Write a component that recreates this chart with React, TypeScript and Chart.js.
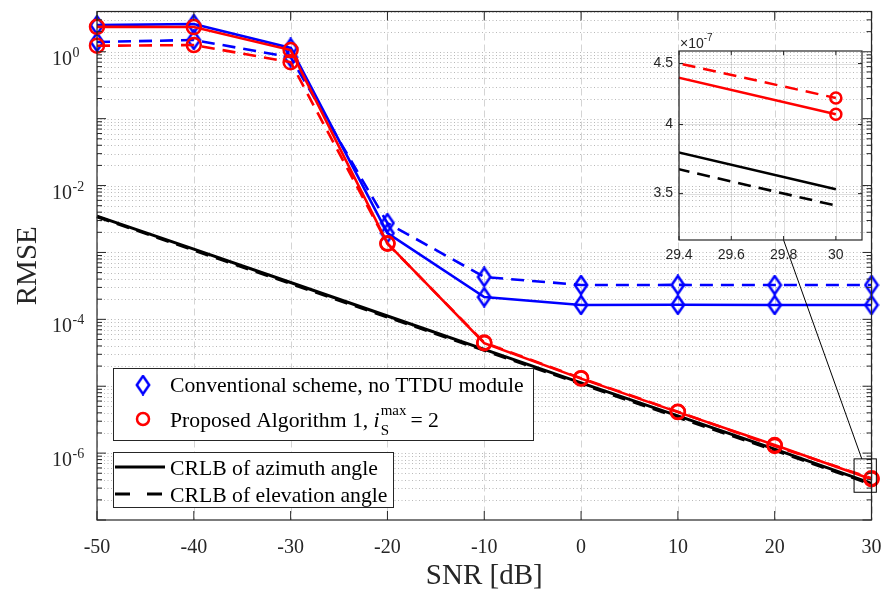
import React, { useEffect, useRef } from 'react';
import { Chart, registerables } from 'chart.js';

Chart.register(...registerables);

// ---------------- data ----------------
const snrDb = [-50, -40, -30, -20, -10, 0, 10, 20, 30];
const conventionalAzimuth = [2.5, 2.6, 1.14, 1.94e-3, 2.15e-4, 1.64e-4, 1.65e-4, 1.64e-4, 1.64e-4];
const conventionalElevation = [1.4, 1.5, 0.83, 2.75e-3, 4.3e-4, 3.26e-4, 3.27e-4, 3.26e-4, 3.26e-4];
const proposedAzimuth = [2.36, 2.34, 1.06, 1.37e-3, 4.4e-5, 1.3e-5, 4.1e-6, 1.32e-6, 4.08e-7];
const proposedElevation = [1.23, 1.26, 0.7, 1.35e-3, 4.5e-5, 1.32e-5, 4.15e-6, 1.28e-6, 4.21e-7];
const crlbAzimuth = [3.5e-3, 1.12e-3, 3.55e-4, 1.12e-4, 3.55e-5, 1.12e-5, 3.6e-6, 1.15e-6, 3.53e-7];
const crlbElevation = [3.42e-3, 1.08e-3, 3.42e-4, 1.08e-4, 3.43e-5, 1.08e-5, 3.43e-6, 1.1e-6, 3.42e-7];

const xTicks = [-50, -40, -30, -20, -10, 0, 10, 20, 30];
const yTickExponents = [0, -2, -4, -6];
const insetXTicks = [29.4, 29.6, 29.8, 30];
const insetYTicks = [3.5, 4, 4.5]; // in units of 10^-7
const insetExponent = -7;

const legendMainLabels = ['Conventional scheme, no TTDU module', 'Proposed Algorithm 1, '];
const legendCrlbLabels = ['CRLB of azimuth angle', 'CRLB of elevation angle'];
const xTitle = 'SNR [dB]';
const yTitle = 'RMSE';

// zoom annotation (data coordinates)
const zoomBoxX = [28.2, 30.5];
const zoomBoxY = [2.6e-7, 8.2e-7];
const connectorMainX = 29.0;
const connectorInsetX = 29.8;

// ---------------- style ----------------
const W = 883;
const H = 589;
const INSET = { left: 600, top: 20, width: 283, height: 260 };
const SERIF = '"Liberation Serif", "Times New Roman", serif';
const SANS = '"Liberation Sans", Arial, sans-serif';
const TXT = '#262626';
const BLUE = '#0000ff';
const RED = '#ff0000';
const BLACK = '#000000';
const DASH = [13, 8];

function makeDiamond(): HTMLCanvasElement {
  const c = document.createElement('canvas');
  c.width = 16;
  c.height = 21;
  const g = c.getContext('2d')!;
  g.strokeStyle = BLUE;
  g.lineWidth = 2.5;
  g.beginPath();
  g.moveTo(8, 1.5);
  g.lineTo(14.2, 10.5);
  g.lineTo(8, 19.5);
  g.lineTo(1.8, 10.5);
  g.closePath();
  g.stroke();
  return c;
}

function series(label: string, data: number[], color: string, dashed: boolean, marker: any, radius: number, lw: number, clip: any) {
  return {
    label,
    data: snrDb.map((x, i) => ({ x, y: data[i] })),
    borderColor: color,
    borderWidth: lw,
    borderDash: dashed ? DASH : [],
    pointStyle: marker || false,
    pointRadius: marker ? radius : 0,
    pointBorderColor: color,
    pointBorderWidth: 2.5,
    pointBackgroundColor: 'rgba(0,0,0,0)',
    tension: 0,
    fill: false,
    clip,
  };
}

function seg(ctx: CanvasRenderingContext2D, x1: number, y1: number, x2: number, y2: number) {
  ctx.beginPath();
  ctx.moveTo(x1, y1);
  ctx.lineTo(x2, y2);
  ctx.stroke();
}

export default function App() {
  const mainRef = useRef<HTMLCanvasElement>(null);
  const insetRef = useRef<HTMLCanvasElement>(null);

  useEffect(() => {
    const diamond = makeDiamond();

    // ---------- inset ----------
    const insetDecor = {
      id: 'insetDecor',
      beforeDatasetsDraw(chart: any) {
        const { ctx, chartArea: a, scales } = chart;
        const x = scales.x, y = scales.y;
        ctx.save();
        ctx.strokeStyle = 'rgba(38,38,38,0.15)';
        ctx.lineWidth = 1;
        for (const t of insetXTicks) {
          const px = Math.round(x.getPixelForValue(t)) + 0.5;
          seg(ctx, px, a.top, px, a.bottom);
        }
        for (const t of insetYTicks) {
          const py = Math.round(y.getPixelForValue(t * 10 ** insetExponent)) + 0.5;
          seg(ctx, a.left, py, a.right, py);
        }
        ctx.restore();
      },
      afterDatasetsDraw(chart: any) {
        const { ctx, chartArea: a, scales } = chart;
        const x = scales.x, y = scales.y;
        ctx.save();
        ctx.strokeStyle = TXT;
        ctx.lineWidth = 1.2;
        ctx.strokeRect(a.left, a.top, a.right - a.left, a.bottom - a.top);
        ctx.lineWidth = 1;
        ctx.fillStyle = TXT;
        ctx.font = `14px ${SANS}`;
        ctx.textAlign = 'center';
        ctx.textBaseline = 'middle';
        for (const t of insetXTicks) {
          const px = x.getPixelForValue(t);
          seg(ctx, px, a.bottom, px, a.bottom - 4);
          seg(ctx, px, a.top, px, a.top + 4);
          ctx.fillText(String(t), px, a.bottom + 15);
        }
        ctx.textAlign = 'right';
        for (const t of insetYTicks) {
          const py = y.getPixelForValue(t * 10 ** insetExponent);
          seg(ctx, a.left, py, a.left + 4, py);
          seg(ctx, a.right, py, a.right - 4, py);
          ctx.fillText(String(t), a.left - 6, py);
        }
        // x10^-7
        ctx.textAlign = 'left';
        ctx.textBaseline = 'alphabetic';
        ctx.font = `14px ${SANS}`;
        const base = '\u00d710';
        ctx.fillText(base, a.left + 1, a.top - 3);
        const bw = ctx.measureText(base).width;
        ctx.font = `10px ${SANS}`;
        ctx.fillText(String(insetExponent), a.left + 1 + bw, a.top - 10);
        ctx.restore();
      },
    };

    const inset = new Chart(insetRef.current!, {
      type: 'line',
      data: {
        datasets: [
          series('p-az', proposedAzimuth, RED, false, 'circle', 5.5, 2.5, undefined),
          series('p-el', proposedElevation, RED, true, 'circle', 5.5, 2.5, undefined),
          series('c-az', crlbAzimuth, BLACK, false, null, 0, 2.6, undefined),
          series('c-el', crlbElevation, BLACK, true, null, 0, 2.6, undefined),
        ] as any,
      },
      options: {
        responsive: false,
        animation: false,
        devicePixelRatio: 1,
        events: [],
        layout: { padding: { left: 0, right: 21, top: 31, bottom: 0 } },
        plugins: { legend: { display: false }, tooltip: { enabled: false } },
        scales: {
          x: {
            type: 'linear', min: 29.4, max: 30.1,
            ticks: { display: false }, grid: { display: false }, border: { display: false },
            afterFit: (s: any) => { s.height = 40; },
          },
          y: {
            type: 'logarithmic', min: 3.2e-7, max: 4.61e-7,
            ticks: { display: false }, grid: { display: false }, border: { display: false },
            afterFit: (s: any) => { s.width = 79; },
          },
        },
      } as any,
      plugins: [insetDecor],
    });

    // ---------- main ----------
    const mainDecor = {
      id: 'mainDecor',
      beforeDatasetsDraw(chart: any) {
        const { ctx, chartArea: a, scales } = chart;
        const x = scales.x, y = scales.y;
        ctx.save();
        ctx.lineWidth = 1;
        ctx.strokeStyle = 'rgba(38,38,38,0.32)';
        ctx.setLineDash([1, 2.5]);
        for (let e = -7; e <= 0; e++) {
          for (let m = 1; m <= 9; m++) {
            const v = m * 10 ** e;
            if (v <= y.min * 1.0001 || v > y.max) continue;
            const py = Math.round(y.getPixelForValue(v)) + 0.5;
            seg(ctx, a.left, py, a.right, py);
          }
        }
        ctx.setLineDash([7, 4]);
        ctx.strokeStyle = 'rgba(38,38,38,0.2)';
        for (const t of xTicks) {
          const px = Math.round(x.getPixelForValue(t)) + 0.5;
          seg(ctx, px, a.top, px, a.bottom);
        }
        ctx.restore();
      },
      afterDatasetsDraw(chart: any) {
        const { ctx, chartArea: a, scales } = chart;
        const x = scales.x, y = scales.y;
        ctx.save();
        // frame
        ctx.strokeStyle = TXT;
        ctx.lineWidth = 1.2;
        ctx.strokeRect(a.left, a.top, a.right - a.left, a.bottom - a.top);
        ctx.lineWidth = 1;
        // y ticks
        for (let e = -7; e <= 0; e++) {
          for (let m = 1; m <= 9; m++) {
            const v = m * 10 ** e;
            if (v < y.min * 0.9999 || v > y.max) continue;
            const py = y.getPixelForValue(v);
            const len = m === 1 ? 9 : 5;
            seg(ctx, a.left, py, a.left + len, py);
            seg(ctx, a.right, py, a.right - len, py);
          }
        }
        // x ticks
        for (const t of xTicks) {
          const px = x.getPixelForValue(t);
          seg(ctx, px, a.bottom, px, a.bottom - 9);
          seg(ctx, px, a.top, px, a.top + 9);
        }
        // tick labels
        ctx.fillStyle = TXT;
        ctx.font = `20px ${SERIF}`;
        ctx.textAlign = 'center';
        ctx.textBaseline = 'middle';
        for (const t of xTicks) {
          ctx.fillText(String(t), x.getPixelForValue(t), a.bottom + 28);
        }
        ctx.textBaseline = 'alphabetic';
        for (const e of yTickExponents) {
          const py = y.getPixelForValue(10 ** e);
          const xr = a.left - 25;
          ctx.font = `20px ${SERIF}`;
          ctx.textAlign = 'right';
          ctx.fillText('10', xr, py + 13);
          ctx.font = `14px ${SERIF}`;
          ctx.textAlign = 'left';
          ctx.fillText(String(e), xr + 0.5, py + 5);
        }
        // axis titles
        ctx.font = `29px ${SERIF}`;
        ctx.textAlign = 'center';
        ctx.textBaseline = 'middle';
        ctx.fillText(xTitle, (a.left + a.right) / 2, a.bottom + 56);
        ctx.save();
        ctx.translate(28, (a.top + a.bottom) / 2);
        ctx.rotate(-Math.PI / 2);
        ctx.fillText(yTitle, 0, 0);
        ctx.restore();

        // zoom box + connector
        ctx.strokeStyle = BLACK;
        ctx.lineWidth = 1;
        const bx1 = x.getPixelForValue(zoomBoxX[0]);
        const bx2 = x.getPixelForValue(zoomBoxX[1]);
        const by1 = y.getPixelForValue(zoomBoxY[1]);
        const by2 = y.getPixelForValue(zoomBoxY[0]);
        ctx.strokeRect(bx1, by1, bx2 - bx1, by2 - by1);
        const ix = INSET.left + inset.scales.x.getPixelForValue(connectorInsetX);
        const iy = INSET.top + inset.chartArea.bottom;
        seg(ctx, ix, iy, x.getPixelForValue(connectorMainX), by1);

        // legend 1
        const L1 = { x: 113, y: 368, w: 420, h: 72 };
        ctx.fillStyle = '#ffffff';
        ctx.fillRect(L1.x, L1.y, L1.w, L1.h);
        ctx.strokeStyle = TXT;
        ctx.strokeRect(L1.x + 0.5, L1.y + 0.5, L1.w, L1.h);
        const r1 = L1.y + 16;
        const r2 = L1.y + 51;
        ctx.drawImage(diamond, 143 - diamond.width / 2, r1 - diamond.height / 2 + 1);
        ctx.strokeStyle = RED;
        ctx.lineWidth = 2.5;
        ctx.beginPath();
        ctx.arc(143, r2, 6, 0, Math.PI * 2);
        ctx.stroke();
        ctx.fillStyle = BLACK;
        ctx.textAlign = 'left';
        ctx.textBaseline = 'alphabetic';
        ctx.font = `21.7px ${SERIF}`;
        ctx.fillText(legendMainLabels[0], 170, r1 + 8);
        ctx.fillText(legendMainLabels[1], 170, r2 + 8);
        let tx = 170 + ctx.measureText(legendMainLabels[1]).width;
        ctx.font = `italic 21.7px ${SERIF}`;
        ctx.fillText('i', tx, r2 + 8);
        tx += ctx.measureText('i').width + 1;
        ctx.font = `15px ${SERIF}`;
        ctx.fillText('max', tx, r2 - 4);
        const mw = ctx.measureText('max').width;
        ctx.fillText('S', tx, r2 + 16);
        ctx.font = `21.7px ${SERIF}`;
        ctx.fillText('= 2', tx + mw + 4, r2 + 8);

        // legend 2
        const L2 = { x: 113, y: 452, w: 280, h: 55 };
        ctx.fillStyle = '#ffffff';
        ctx.fillRect(L2.x, L2.y, L2.w, L2.h);
        ctx.strokeStyle = TXT;
        ctx.lineWidth = 1;
        ctx.strokeRect(L2.x + 0.5, L2.y + 0.5, L2.w, L2.h);
        const q1 = L2.y + 15;
        const q2 = L2.y + 42;
        ctx.strokeStyle = BLACK;
        ctx.lineWidth = 3;
        seg(ctx, 115, q1, 165, q1);
        ctx.setLineDash([15, 17]);
        seg(ctx, 115, q2, 165, q2);
        ctx.setLineDash([]);
        ctx.fillStyle = BLACK;
        ctx.font = `21.7px ${SERIF}`;
        ctx.fillText(legendCrlbLabels[0], 170, q1 + 8);
        ctx.fillText(legendCrlbLabels[1], 170, q2 + 8);
        ctx.restore();
      },
    };

    const main = new Chart(mainRef.current!, {
      type: 'line',
      data: {
        datasets: [
          series('Proposed, azimuth', proposedAzimuth, RED, false, 'circle', 7, 2.6, false),
          series('Proposed, elevation', proposedElevation, RED, true, 'circle', 7, 2.6, false),
          series('CRLB azimuth', crlbAzimuth, BLACK, false, null, 0, 3, false),
          series('CRLB elevation', crlbElevation, BLACK, true, null, 0, 3, false),
          series('Conventional, azimuth', conventionalAzimuth, BLUE, false, diamond, 9, 2.6, false),
          series('Conventional, elevation', conventionalElevation, BLUE, true, diamond, 9, 2.6, false),
        ] as any,
      },
      options: {
        responsive: false,
        animation: false,
        devicePixelRatio: 1,
        events: [],
        layout: { padding: { left: 0, right: 6, top: 11.5, bottom: 0 } },
        plugins: { legend: { display: false }, tooltip: { enabled: false } },
        scales: {
          x: {
            type: 'linear', min: -50, max: 30,
            ticks: { display: false }, grid: { display: false }, border: { display: false },
            afterFit: (s: any) => { s.height = 69; },
          },
          y: {
            type: 'logarithmic', min: 1e-7, max: 4,
            ticks: { display: false }, grid: { display: false }, border: { display: false },
            afterFit: (s: any) => { s.width = 97; },
          },
        },
      } as any,
      plugins: [mainDecor],
    });

    return () => {
      main.destroy();
      inset.destroy();
    };
  }, []);

  return (
    <div style={{ position: 'fixed', left: 0, top: 0, width: W, height: H, background: '#ffffff' }}>
      <canvas ref={mainRef} width={W} height={H} style={{ position: 'absolute', left: 0, top: 0, width: W, height: H }} />
      <canvas
        ref={insetRef}
        width={INSET.width}
        height={INSET.height}
        style={{ position: 'absolute', left: INSET.left, top: INSET.top, width: INSET.width, height: INSET.height }}
      />
    </div>
  );
}
